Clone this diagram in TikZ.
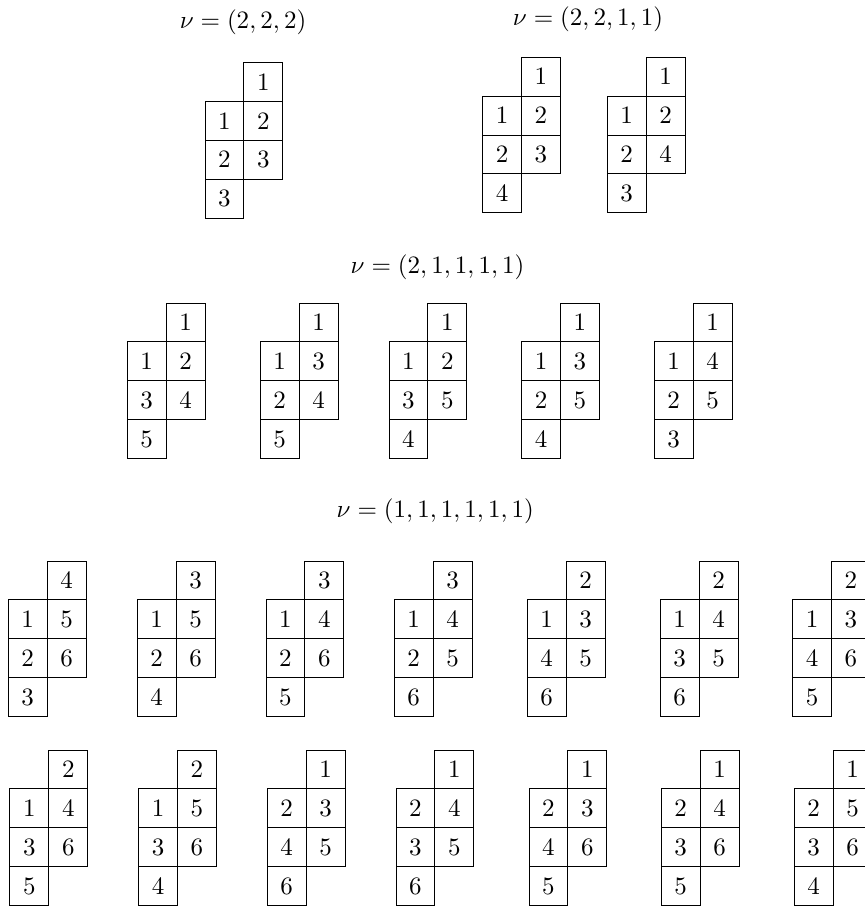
\documentclass[tikz,border=0pt]{standalone}
\begin{document}
\begin{tikzpicture}[x=0.4pt,y=-0.4pt,
  cell/.style={draw,line width=0.4pt,minimum size=15.54pt,inner sep=0pt,outer sep=0pt,font=\normalsize},
  ttl/.style={inner sep=0pt,font=\normalsize}]
\useasboundingbox (0,0) rectangle (865,907);
\def\cs{38.85}
\newcommand{\yt}[9]{%
  \node[cell] (#1a) at ({#2+1.5*\cs},{#3+0.5*\cs}) {$#4$};
  \node[cell] (#1b) at ({#2+0.5*\cs},{#3+1.5*\cs}) {$#5$};
  \node[cell] (#1c) at ({#2+1.5*\cs},{#3+1.5*\cs}) {$#6$};
  \node[cell] (#1d) at ({#2+0.5*\cs},{#3+2.5*\cs}) {$#7$};
  \node[cell] (#1e) at ({#2+1.5*\cs},{#3+2.5*\cs}) {$#8$};
  \node[cell] (#1f) at ({#2+0.5*\cs},{#3+3.5*\cs}) {$#9$};
}
% titles
\node[ttl] (h1) at (243,22.5) {$\nu=(2,2,2)$};
\node[ttl] (h2) at (588,19) {$\nu=(2,2,1,1)$};
\node[ttl] (h3) at (437.5,267.5) {$\nu=(2,1,1,1,1)$};
\node[ttl] (h4) at (435.3,511) {$\nu=(1,1,1,1,1,1)$};
% row 1
\yt{pa}{205}{62.7}{1}{1}{2}{2}{3}{3}
\yt{pb}{482.7}{57.3}{1}{1}{2}{2}{3}{4}
\yt{pc}{607.3}{57.3}{1}{1}{2}{2}{4}{3}
% row 2
\yt{qa}{127.3}{303}{1}{1}{2}{3}{4}{5}
\yt{qb}{260.3}{303}{1}{1}{3}{2}{4}{5}
\yt{qc}{389}{303}{1}{1}{2}{3}{5}{4}
\yt{qd}{521.7}{303}{1}{1}{3}{2}{5}{4}
\yt{qe}{654.3}{303}{1}{1}{4}{2}{5}{3}
% row 3
\yt{ra}{8.3}{561}{4}{1}{5}{2}{6}{3}
\yt{rb}{137.3}{561}{3}{1}{5}{2}{6}{4}
\yt{rc}{266}{561}{3}{1}{4}{2}{6}{5}
\yt{rd}{394.3}{561}{3}{1}{4}{2}{5}{6}
\yt{re}{527.3}{561}{2}{1}{3}{4}{5}{6}
\yt{rf}{660.3}{561}{2}{1}{4}{3}{5}{6}
\yt{rg}{792.7}{561}{2}{1}{3}{4}{6}{5}
% row 4
\yt{sa}{10}{750}{2}{1}{4}{3}{6}{5}
\yt{sb}{138.7}{750}{2}{1}{5}{3}{6}{4}
\yt{sc}{267.3}{750}{1}{2}{3}{4}{5}{6}
\yt{sd}{396}{750}{1}{2}{4}{3}{5}{6}
\yt{se}{529}{750}{1}{2}{3}{4}{6}{5}
\yt{sf}{661.3}{750}{1}{2}{4}{3}{6}{5}
\yt{sg}{794.3}{750}{1}{2}{5}{3}{6}{4}
\end{tikzpicture}
\end{document}
